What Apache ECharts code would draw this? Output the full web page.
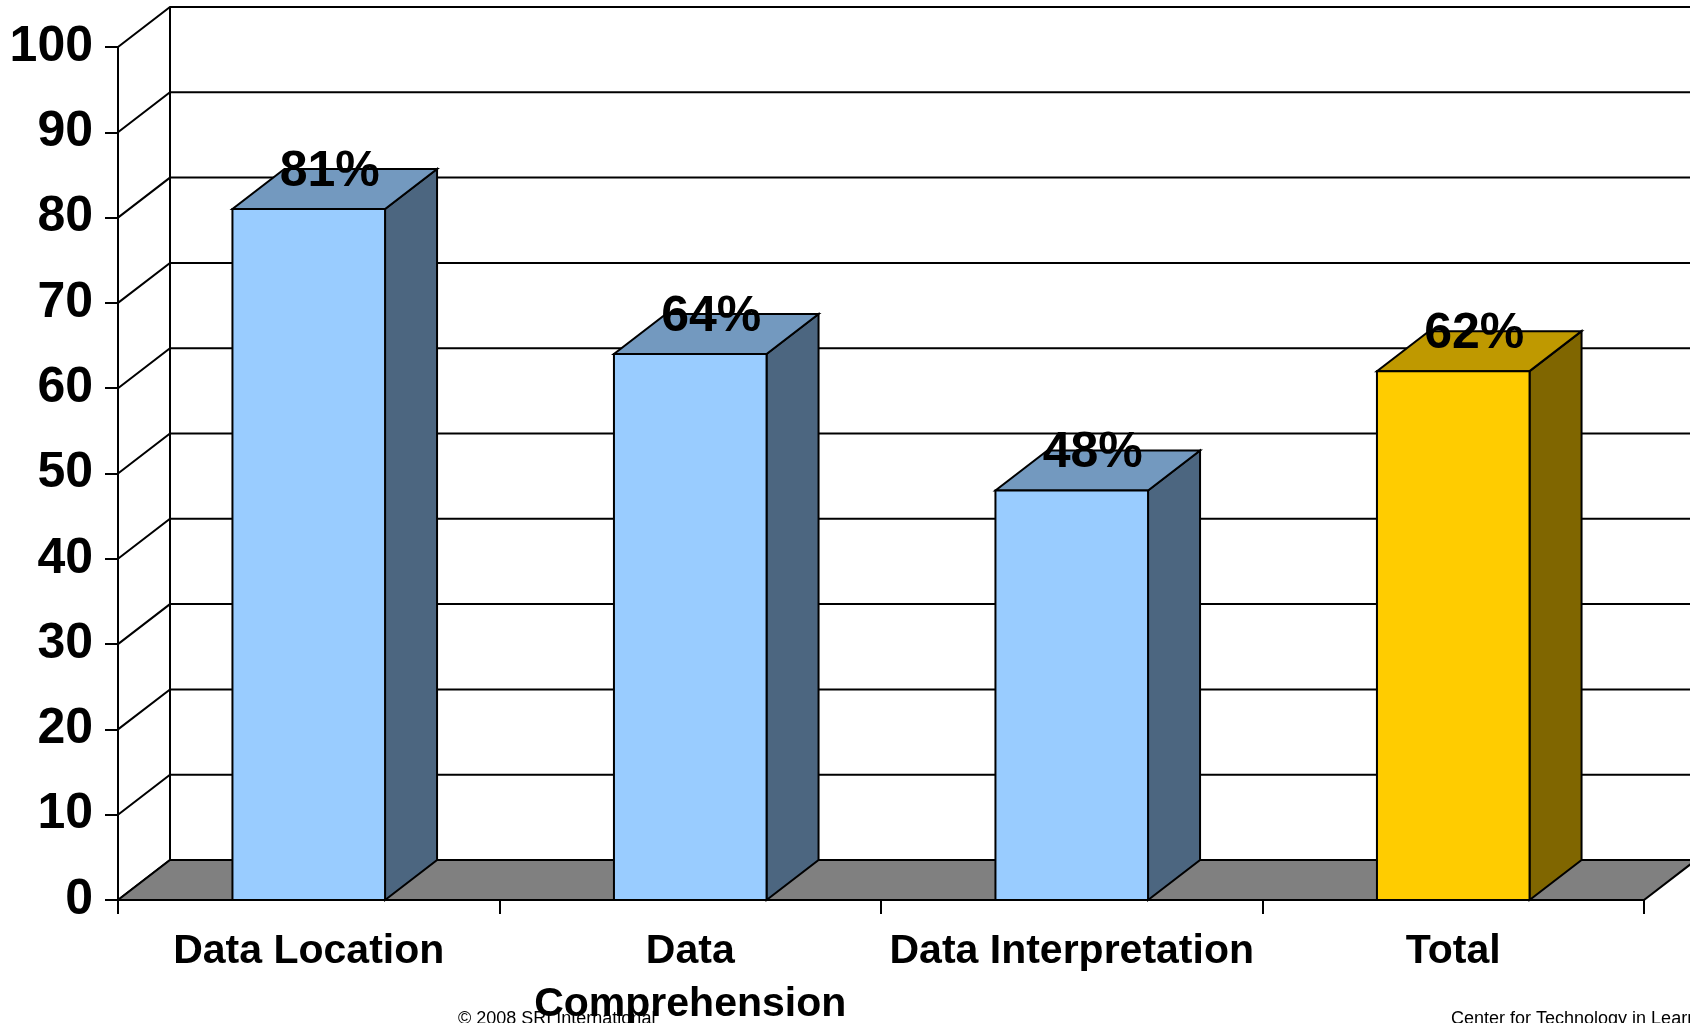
<!DOCTYPE html>
<html>
<head>
<meta charset="utf-8">
<script src="https://cdn.jsdelivr.net/npm/echarts@6/dist/echarts.min.js"></script>
<style>
  html, body { margin: 0; padding: 0; background: #fff; }
  #chart { width: 1690px; height: 1023px; }
</style>
</head>
<body>
<div id="chart"></div>
<script>
const categories = ['Data Location', 'Data\nComprehension', 'Data Interpretation', 'Total'];
const scores = [81, 64, 48, 62];
const yTicks = [0, 10, 20, 30, 40, 50, 60, 70, 80, 90, 100];

// depth of the fake 3d box, in pixels
const DX = 52;
const DY = -40;

const blue = { front: '#99CCFF', top: '#7399BF', side: '#4C6680' };
const gold = { front: '#FFCC00', top: '#BF9900', side: '#806600' };
const faceColors = [blue, blue, blue, gold];

const chart = echarts.init(document.getElementById('chart'));

const option = {
    backgroundColor: '#fff',
    animation: false,
    grid: { left: 118, right: 46, top: 47, bottom: 123, containLabel: false, outerBoundsMode: 'none' },
    xAxis: {
        type: 'category',
        data: categories,
        z: 5,
        axisLine: { lineStyle: { color: '#000', width: 2 } },
        axisTick: { show: true, alignWithLabel: false, length: 14, lineStyle: { color: '#000', width: 2 } },
        axisLabel: {
            color: '#000',
            fontFamily: 'Liberation Sans, Arial, sans-serif',
            fontWeight: 'bold',
            fontSize: 41,
            lineHeight: 53,
            margin: 25,
            interval: 0
        }
    },
    yAxis: {
        type: 'value',
        min: 0,
        max: 100,
        interval: 10,
        splitLine: { show: false },
        axisLine: { show: true, lineStyle: { color: '#000', width: 2 } },
        axisTick: { show: true, length: 13, lineStyle: { color: '#000', width: 2 } },
        axisLabel: {
            color: '#000',
            fontFamily: 'Liberation Sans, Arial, sans-serif',
            fontWeight: 'bold',
            fontSize: 50,
            margin: 25
        }
    },
    graphic: [
        {
            type: 'text', left: 458, top: 1010, z: 0,
            style: { text: '\u00A9 2008 SRI International', fill: '#000', font: '18px "Liberation Sans", Arial, sans-serif' }
        },
        {
            type: 'text', left: 1451, top: 1010, z: 0,
            style: { text: 'Center for Technology in Learning', fill: '#000', font: '18px "Liberation Sans", Arial, sans-serif' }
        }
    ],
    series: [
        {
            // gridlines on the side and back walls
            type: 'custom',
            z: 1,
            data: yTicks.map(t => [0, t]),
            renderItem: (params, api) => {
                const left = params.coordSys.x;
                const y = api.coord([0, api.value(1)])[1];
                return {
                    type: 'polyline',
                    shape: { points: [[left, y], [left + DX, y + DY], [api.getWidth(), y + DY]] },
                    style: { stroke: '#000', lineWidth: 2, fill: null }
                };
            }
        },
        {
            // back wall edge and floor
            type: 'custom',
            z: 2,
            data: [[0, 0]],
            renderItem: (params, api) => {
                const cs = params.coordSys;
                const y0 = api.coord([0, 0])[1];
                const yTop = api.coord([0, 100])[1];
                return {
                    type: 'group',
                    children: [
                        {
                            type: 'line',
                            shape: { x1: cs.x + DX, y1: yTop + DY, x2: cs.x + DX, y2: y0 + DY },
                            style: { stroke: '#000', lineWidth: 2 }
                        },
                        {
                            type: 'polygon',
                            shape: { points: [[cs.x, y0], [cs.x + cs.width, y0], [cs.x + cs.width + DX, y0 + DY], [cs.x + DX, y0 + DY]] },
                            style: { fill: '#808080', stroke: '#000', lineWidth: 2 }
                        }
                    ]
                };
            }
        },
        {
            // 3d bars
            type: 'custom',
            z: 3,
            data: scores.map((v, i) => [i, v]),
            renderItem: (params, api) => {
                const i = api.value(0);
                const v = api.value(1);
                const top = api.coord([i, v]);
                const base = api.coord([i, 0]);
                const w = api.size([1, 0])[0] * 0.4;
                const x0 = top[0] - w / 2;
                const x1 = top[0] + w / 2;
                const yt = top[1];
                const yb = base[1];
                const c = faceColors[i];
                const edge = { stroke: '#000', lineWidth: 2 };
                return {
                    type: 'group',
                    children: [
                        {
                            type: 'polygon',
                            shape: { points: [[x1, yb], [x1, yt], [x1 + DX, yt + DY], [x1 + DX, yb + DY]] },
                            style: Object.assign({ fill: c.side }, edge)
                        },
                        {
                            type: 'polygon',
                            shape: { points: [[x0, yt], [x1, yt], [x1 + DX, yt + DY], [x0 + DX, yt + DY]] },
                            style: Object.assign({ fill: c.top }, edge)
                        },
                        {
                            type: 'rect',
                            shape: { x: x0, y: yt, width: w, height: yb - yt },
                            style: Object.assign({ fill: c.front }, edge)
                        },
                        {
                            type: 'text',
                            style: {
                                text: v + '%',
                                x: top[0] + 21,
                                y: yt - 37,
                                textAlign: 'center',
                                textVerticalAlign: 'middle',
                                fill: '#000',
                                font: 'bold 50px "Liberation Sans", Arial, sans-serif'
                            }
                        }
                    ]
                };
            }
        }
    ]
};

chart.setOption(option);
window.addEventListener('resize', () => chart.resize());
</script>
</body>
</html>
